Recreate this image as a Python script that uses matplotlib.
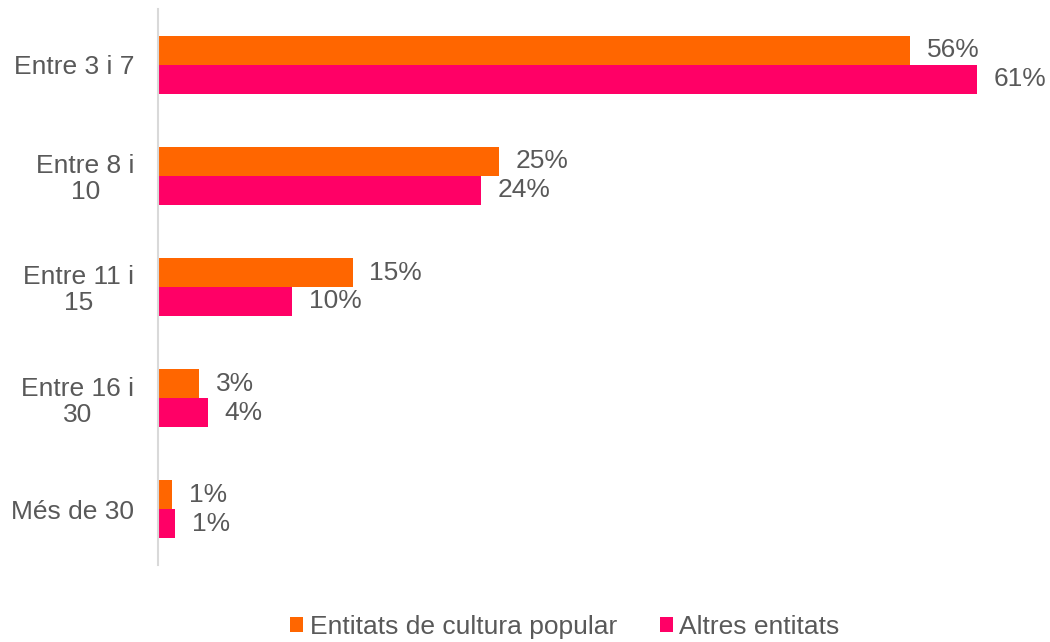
import matplotlib
matplotlib.use("Agg")
import matplotlib.pyplot as plt
import numpy as np

categories = ["Entre 3 i 7", "Entre 8 i\n10", "Entre 11 i\n15", "Entre 16 i\n30", "Més de 30"]
series_names = ["Entitats de cultura popular", "Altres entitats"]
cultura = [56.0, 25.4, 14.5, 3.05, 1.05]
altres = [61.0, 24.05, 10.0, 3.7, 1.27]
cultura_labels = ["56%", "25%", "15%", "3%", "1%"]
altres_labels = ["61%", "24%", "10%", "4%", "1%"]

colors = ["#FF6600", "#FF0066"]
text_color = "#595959"

plt.rcParams['font.family'] = ['Liberation Sans', 'DejaVu Sans']
FS = 19

fig = plt.figure(figsize=(10.5, 6.42), dpi=100)
W, H = 1050, 642
left, right, top, bottom = 158, 1000, 9, 565
ax = fig.add_axes([left / W, 1 - bottom / H, (right - left) / W, (bottom - top) / H])

y = np.arange(len(categories))
h = 0.26
b1 = ax.barh(y - h / 2, cultura, height=h, color=colors[0], label=series_names[0])
b2 = ax.barh(y + h / 2, altres, height=h, color=colors[1], label=series_names[1])

ax.set_xlim(0, (right - left) / 13.43)
ax.set_ylim(len(categories) - 0.5, -0.5)

for rects, labs in ((b1, cultura_labels), (b2, altres_labels)):
    for r, lab in zip(rects, labs):
        ax.annotate(lab, (r.get_width(), r.get_y() + r.get_height() / 2),
                    xytext=(12, 0), textcoords="offset points",
                    ha="left", va="center", fontsize=FS, color=text_color)

ax.set_yticks(y)
ax.set_yticklabels(categories, fontsize=FS, color=text_color,
                   multialignment="center", linespacing=1.1)
ax.tick_params(axis="y", length=0, pad=17)
ax.set_xticks([])
for s in ["top", "right", "bottom"]:
    ax.spines[s].set_visible(False)
ax.spines["left"].set_color("#D9D9D9")
ax.spines["left"].set_linewidth(1.5)

leg = fig.legend(handles=[b1, b2], labels=series_names, loc="center",
                 bbox_to_anchor=(0.538, 1 - 627 / H), ncol=2, frameon=False,
                 fontsize=FS, handlelength=0.5, handleheight=0.5, handletextpad=0.25,
                 columnspacing=1.6)
for t in leg.get_texts():
    t.set_color(text_color)

fig.savefig("out.png", dpi=100)
